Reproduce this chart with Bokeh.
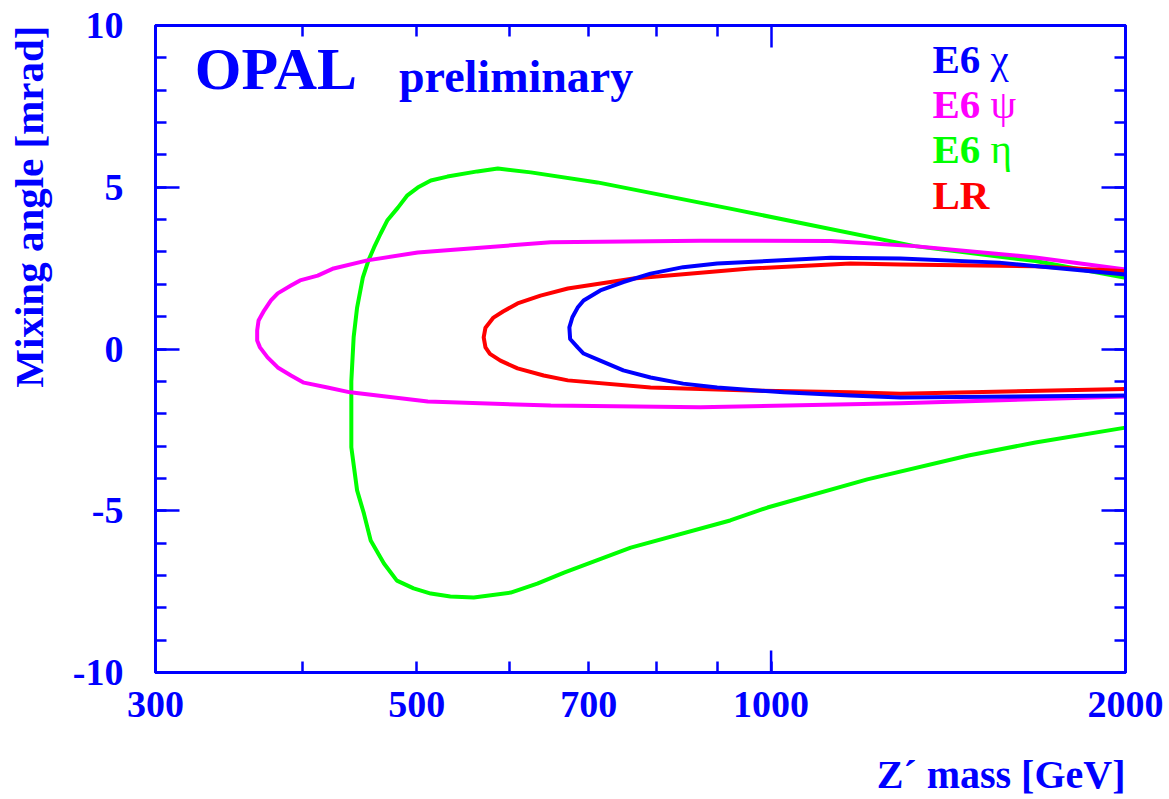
from bokeh.plotting import figure
from bokeh.models import Range1d, FixedTicker, LinearAxis, Label, Title
from bokeh.embed import file_html
from bokeh.resources import INLINE

# ---------------- data ----------------
chi_mass = [2000, 1562, 1288, 1124, 900, 842, 790, 749, 716, 693, 685, 678, 674, 675, 685, 693, 716, 749, 790, 842, 900, 1025, 1168, 1288, 2000]
chi_angle = [2.30, 2.67, 2.80, 2.82, 2.64, 2.53, 2.33, 2.07, 1.81, 1.50, 1.28, 0.98, 0.67, 0.31, 0.05, -0.14, -0.36, -0.66, -0.88, -1.07, -1.19, -1.34, -1.44, -1.50, -1.44]

psi_mass = [2000, 1677, 1324, 1124, 871, 650, 534, 501, 454, 425, 412, 398, 391, 381, 376, 371, 367, 366, 366, 368, 373.5, 381, 391, 401, 420, 439, 511, 650, 871, 1288, 2000]
psi_angle = [2.46, 2.83, 3.18, 3.34, 3.35, 3.30, 3.06, 2.98, 2.74, 2.49, 2.27, 2.12, 1.96, 1.72, 1.50, 1.19, 0.88, 0.57, 0.26, 0.05, -0.26, -0.57, -0.82, -1.04, -1.19, -1.34, -1.62, -1.75, -1.80, -1.68, -1.47]

eta_mass = [2000, 1677, 1324, 923, 712, 625, 586, 563, 531, 514, 501, 491, 482, 472, 466, 460, 455, 450, 445, 442, 440, 440, 445, 451, 457, 469, 481, 497, 514, 534, 559, 601, 633, 667, 760, 923, 993, 1207, 1471, 1677, 2000]
eta_angle = [2.20, 2.72, 3.18, 4.34, 5.15, 5.46, 5.58, 5.49, 5.33, 5.21, 4.99, 4.75, 4.37, 3.97, 3.57, 3.14, 2.74, 2.21, 1.28, 0.36, -1.00, -3.04, -4.37, -5.09, -5.92, -6.63, -7.16, -7.40, -7.56, -7.65, -7.68, -7.53, -7.25, -6.91, -6.14, -5.30, -4.90, -4.03, -3.29, -2.89, -2.43]

lr_mass = [2000, 1677, 1288, 1168, 960, 764, 672, 637, 609, 592, 581, 572, 570, 572, 577, 589, 609, 641, 672, 790, 960, 1168, 1288, 2000]
lr_angle = [2.40, 2.56, 2.61, 2.64, 2.49, 2.18, 1.87, 1.65, 1.41, 1.16, 0.97, 0.66, 0.36, 0.05, -0.15, -0.36, -0.60, -0.82, -0.97, -1.19, -1.28, -1.34, -1.38, -1.24]

x_major_ticks = [300, 500, 700, 1000, 2000]
x_tick_labels = ["300", "500", "700", "1000", "2000"]
x_minor_ticks = [400, 600, 800, 900]
x_long_ticks = [1000]
y_major_ticks = [-10, -5, 0, 5, 10]
y_tick_labels = ["-10", "-5", "0", "5", "10"]
y_minor_ticks = list(range(-10, 11))

series_names = ["E6", "E6", "E6", "LR"]
series_greek = ["\u03c7", "\u03c8", "\u03b7", ""]
series_colors = ["#0000ff", "#ff00ff", "#00ff00", "#ff0000"]

x_title = "Z\u00b4 mass [GeV]"
y_title = "Mixing angle [mrad]"

# ---------------- figure ----------------
BLUE = "#0000ff"
FONT = "Liberation Serif"

X0, X1 = 300, 2000
Y0, Y1 = -10, 10

p = figure(width=1169, height=799, x_axis_type="log",
           x_range=Range1d(X0, X1), y_range=Range1d(Y0, Y1),
           output_backend="svg", toolbar_location=None, title_location=None,
           min_border_left=155, min_border_right=44, min_border_top=25, min_border_bottom=127)
p.grid.visible = False
p.outline_line_color = BLUE
p.outline_line_width = 3
p.background_fill_color = "white"
p.border_fill_color = "white"


def style_axis(ax, tick_in_major, tick_in_minor, labels=True):
    ax.axis_line_color = BLUE
    ax.axis_line_width = 3
    ax.major_tick_line_color = BLUE
    ax.minor_tick_line_color = BLUE
    ax.major_tick_line_width = 2.5
    ax.minor_tick_line_width = 2.5
    ax.major_tick_in = tick_in_major
    ax.major_tick_out = 0
    ax.minor_tick_in = tick_in_minor
    ax.minor_tick_out = 0
    ax.major_label_text_font = FONT
    ax.major_label_text_font_style = "bold"
    ax.major_label_text_color = BLUE
    ax.axis_label_standoff = 0
    if labels:
        ax.major_label_text_font_size = "38px"
    else:
        ax.major_label_text_font_size = "1px"
        ax.major_label_text_color = None
        ax.major_label_standoff = 0


# bottom axis
xa = p.xaxis[0]
xa.ticker = FixedTicker(ticks=x_major_ticks, minor_ticks=x_minor_ticks)
xa.major_label_overrides = {t: l for t, l in zip(x_major_ticks, x_tick_labels)}
style_axis(xa, 11, 11)
xa.major_label_standoff = 19

# left axis
ya = p.yaxis[0]
ya.ticker = FixedTicker(ticks=y_major_ticks, minor_ticks=y_minor_ticks)
ya.major_label_overrides = {t: l for t, l in zip(y_major_ticks, y_tick_labels)}
style_axis(ya, 24, 11)
ya.major_label_standoff = 32

# undrawn axis labels only reserve space between tick labels and the titles
for ax, txt, st in [(xa, x_title, 12), (ya, y_title, 2)]:
    ax.axis_label = txt
    ax.axis_label_text_color = None
    ax.axis_label_text_font_size = "11px"
    ax.axis_label_standoff = st

# visible axis titles, aligned to the right/top end as in the reference
p.add_layout(Title(text=y_title, align="right", text_font=FONT, text_font_style="bold",
                   text_font_size="41px", text_color=BLUE, standoff=2), "left")
p.add_layout(Title(text=x_title, align="right", text_font=FONT, text_font_style="bold",
                   text_font_size="40px", text_color=BLUE, standoff=6), "below")

# top axis
xt = LinearAxis(ticker=FixedTicker(ticks=x_long_ticks, minor_ticks=x_minor_ticks + [500, 700]))
xt.major_label_overrides = {t: "" for t in x_long_ticks}
style_axis(xt, 22, 11, labels=False)
p.add_layout(xt, "above")

# right axis
yr = LinearAxis(ticker=FixedTicker(ticks=y_major_ticks, minor_ticks=y_minor_ticks))
yr.major_label_overrides = {t: "" for t in y_major_ticks}
style_axis(yr, 24, 11, labels=False)
p.add_layout(yr, "right")

# longer bottom tick at 1000
tick_len = 22 * (Y1 - Y0) / 647.0
p.segment(x0=x_long_ticks, x1=x_long_ticks, y0=[Y0] * len(x_long_ticks),
          y1=[Y0 + tick_len] * len(x_long_ticks), line_color=BLUE, line_width=2.5)

# curves
for xs, ys, c in [(eta_mass, eta_angle, "#00ff00"), (psi_mass, psi_angle, "#ff00ff"),
                  (lr_mass, lr_angle, "#ff0000"), (chi_mass, chi_angle, "#0000ff")]:
    p.line(xs, ys, line_color=c, line_width=4, line_join="round")

# texts
p.add_layout(Label(x=324, y=8.67, text="OPAL", text_font=FONT, text_font_style="bold",
                   text_font_size="60px", text_color=BLUE, text_baseline="alphabetic"))
p.add_layout(Label(x=483, y=8.42, text="preliminary", text_font=FONT, text_font_style="bold",
                   text_font_size="46px", text_color=BLUE, text_baseline="alphabetic"))

legend_y = [8.95, 7.56, 6.17, 4.77]
for name, greek, col, yy in zip(series_names, series_greek, series_colors, legend_y):
    p.add_layout(Label(x=1371, y=yy, text=name, text_font=FONT, text_font_style="bold",
                       text_font_size="41px", text_color=col, text_baseline="alphabetic"))
    if greek:
        p.add_layout(Label(x=1371, y=yy, x_offset=58, text=greek, text_font=FONT,
                           text_font_style="normal", text_font_size="41px", text_color=col,
                           text_baseline="alphabetic"))

open("out.html", "w").write(file_html(p, INLINE))
